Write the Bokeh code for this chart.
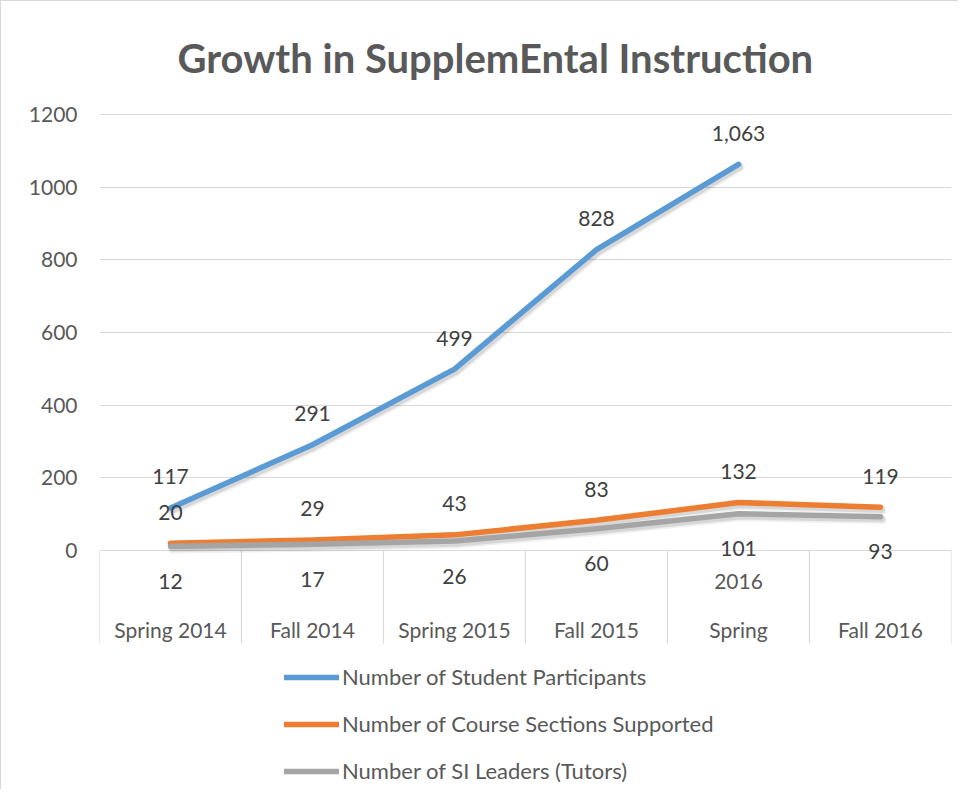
import math
from bokeh.plotting import figure
from bokeh.models import (ColumnDataSource, FixedTicker, Range1d, Legend, LegendItem, Title)
from bokeh.core.properties import value
from bokeh.embed import file_html
from bokeh.resources import INLINE

# ---- data ----
categories = ["Spring 2014", "Fall 2014", "Spring 2015", "Fall 2015", "Spring 2016", "Fall 2016"]
cat_label_main = ["Spring 2014", "Fall 2014", "Spring 2015", "Fall 2015", "Spring", "Fall 2016"]
cat_label_wrap = ["", "", "", "", "2016", ""]
students = [117, 291, 499, 828, 1063, float("nan")]
sections = [20, 29, 43, 83, 132, 119]
leaders = [12, 17, 26, 60, 101, 93]
y_ticks = [0, 200, 400, 600, 800, 1000, 1200]
series_names = ["Number of Student Participants",
                "Number of Course Sections Supported",
                "Number of SI Leaders (Tutors)"]
colors = ["#5B9BD5", "#ED7D31", "#A5A5A5"]

FONT = "Lato"
TXT = "#595959"
LBL = "#404040"
GRID = "#d9d9d9"

xs = [i + 0.5 for i in range(len(categories))]

Y0, Y1 = -660.6, 1211
p = figure(width=958, height=789,
           x_range=Range1d(0, len(categories)), y_range=Range1d(Y0, Y1),
           output_backend="svg", toolbar_location=None,
           min_border_left=98, min_border_right=8,
           min_border_top=109, min_border_bottom=0)
p.styles = {"border-left": "1px solid #d9d9d9", "border-top": "1px solid #d9d9d9"}

# shadow ranges: same data drawn a few pixels lower/right
p.extra_y_ranges = {"shadow": Range1d(Y0 + 8, Y1 + 8)}
p.extra_x_ranges = {"shadow": Range1d(-0.012, len(categories) - 0.012)}

title = Title(text="Growth in SupplemEntal Instruction", align="left", offset=78,
              text_font=FONT, text_font_size="40px", text_font_style="bold",
              text_color=TXT, standoff=57)
p.add_layout(title, "above")

p.outline_line_color = None
p.xaxis.visible = False
p.xgrid.visible = False
p.yaxis.ticker = FixedTicker(ticks=y_ticks)
p.ygrid.ticker = FixedTicker(ticks=y_ticks)
p.ygrid.grid_line_color = GRID
p.ygrid.grid_line_width = 1
p.yaxis.axis_line_color = None
p.yaxis.major_tick_line_color = None
p.yaxis.minor_tick_line_color = None
p.yaxis.major_label_text_font = FONT
p.yaxis.major_label_text_font_size = "21px"
p.yaxis.major_label_text_color = TXT
p.yaxis.major_label_standoff = 16

# category table dividers
bounds = list(range(len(categories) + 1))
p.segment(x0=bounds, y0=[0] * len(bounds), x1=bounds, y1=[-256] * len(bounds),
          line_color=GRID, line_width=1.2)

# category labels
p.text(x=xs, y=[0] * len(xs), text=cat_label_main, y_offset=79,
       text_align="center", text_baseline="middle",
       text_font=value(FONT), text_font_size="21px", text_color=TXT)
p.text(x=xs, y=[0] * len(xs), text=cat_label_wrap, y_offset=31,
       text_align="center", text_baseline="middle",
       text_font=value(FONT), text_font_size="21px", text_color=TXT)

# lines (with soft shadow)
renderers = []
for vals, col in zip([students, sections, leaders], colors):
    p.line(xs, vals, line_color="black", line_alpha=0.06, line_width=9,
           line_cap="round", line_join="round",
           x_range_name="shadow", y_range_name="shadow")
    p.line(xs, vals, line_color="black", line_alpha=0.10, line_width=5.5,
           line_cap="round", line_join="round",
           x_range_name="shadow", y_range_name="shadow")
    r = p.line(xs, vals, line_color=col, line_width=5.5,
               line_cap="round", line_join="round")
    renderers.append(r)

# data labels
def lbl_src(vals):
    px, py, pt = [], [], []
    for xv, v in zip(xs, vals):
        if isinstance(v, float) and math.isnan(v):
            continue
        px.append(xv); py.append(v); pt.append(f"{v:,}")
    return ColumnDataSource(dict(x=px, y=py, t=pt))

for vals, off in [(students, -31), (sections, -31), (leaders, 35)]:
    p.text(x="x", y="y", text="t", source=lbl_src(vals), y_offset=off,
           text_align="center", text_baseline="middle",
           text_font=value(FONT), text_font_size="21px", text_color=LBL)

legend = Legend(items=[LegendItem(label=n, renderers=[r]) for n, r in zip(series_names, renderers)],
                location=(185, 6), orientation="vertical",
                padding=0, margin=0, spacing=20,
                glyph_width=55, glyph_height=20, label_height=20, label_standoff=3,
                label_text_font=FONT, label_text_font_size="22px", label_text_color=TXT,
                border_line_alpha=0, background_fill_alpha=0)
p.add_layout(legend, "center")

open("out.html", "w").write(file_html(p, INLINE))
